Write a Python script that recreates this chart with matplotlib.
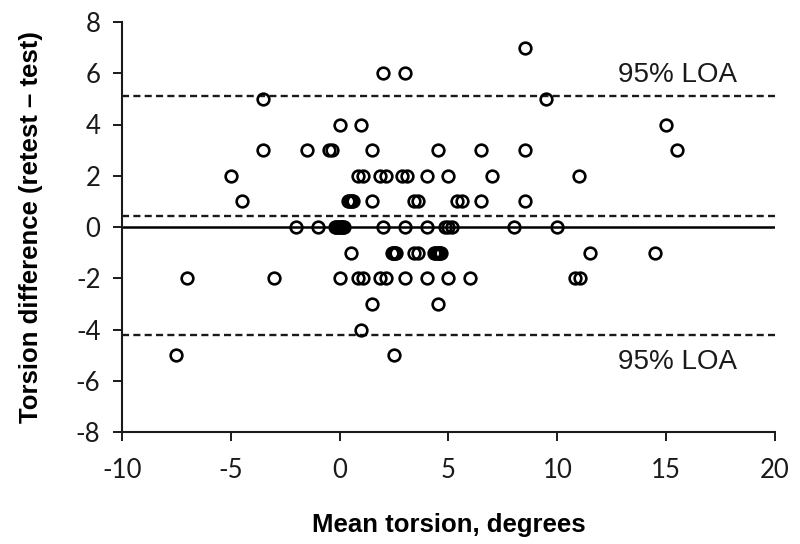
import matplotlib
matplotlib.use("Agg")
import matplotlib.pyplot as plt
import numpy as np

# ---- data ----
diff_levels = [7, 6, 5, 4, 3, 2, 1, 0, -1, -2, -3, -4, -5]
mean_by_level = {
    7: [8.5],
    6: [2, 3],
    5: [-3.5, 9.5],
    4: [0, 1, 15],
    3: [-3.5, -1.5, -0.5, -0.35, 1.5, 4.5, 6.5, 8.5, 15.5],
    2: [-5, 0.85, 1.05, 1.85, 2.15, 2.85, 3.1, 4, 5, 7, 11],
    1: [-4.5, 0.4, 0.45, 0.5, 0.55, 0.6, 1.5, 3.4, 3.6, 5.4, 5.6, 6.5, 8.5],
    0: [-2, -1, -0.2, -0.15, -0.1, -0.05, 0, 0.05, 0.1, 0.15, 0.2,
        2, 3, 4, 4.85, 5.0, 5.15, 8, 10],
    -1: [0.5, 2.4, 2.45, 2.5, 2.55, 2.6, 3.4, 3.6, 4.35, 4.4, 4.45, 4.5,
         4.55, 4.6, 4.65, 11.5, 14.5],
    -2: [-7, -3, 0, 0.85, 1.05, 1.85, 2.15, 3, 4, 5, 6, 10.8, 11.05],
    -3: [1.5, 4.5],
    -4: [1],
    -5: [-7.5, 2.5],
}
mean_torsion = []
torsion_diff = []
for lv in diff_levels:
    for m in mean_by_level[lv]:
        mean_torsion.append(m)
        torsion_diff.append(lv)

mean_diff = 0.44
upper_loa = 5.1
lower_loa = -4.2

x_ticks = [-10, -5, 0, 5, 10, 15, 20]
y_ticks = [-8, -6, -4, -2, 0, 2, 4, 6, 8]

# ---- figure ----
fig = plt.figure(figsize=(8, 5.44), dpi=100)
ax = fig.add_axes([122 / 800, 1 - 432 / 544, (775 - 122) / 800, (432 - 22) / 544])

ax.axhline(0, color="black", lw=1.8, zorder=1)
for yv in (upper_loa, mean_diff, lower_loa):
    ax.axhline(yv, color="#1a1a1a", lw=1.7, ls=(0, (3.0, 1.8)), zorder=1)

ax.plot(mean_torsion, torsion_diff, ls="none", marker="o", ms=8.4,
        mfc="none", mec="black", mew=1.9, zorder=3)

ax.text(15.54, 5.94, "95% LOA", ha="center", va="center",
        fontsize=20, family=["Liberation Sans", "DejaVu Sans"], color="#1a1a1a")
ax.text(15.54, -5.28, "95% LOA", ha="center", va="center",
        fontsize=20, family=["Liberation Sans", "DejaVu Sans"], color="#1a1a1a")

ax.set_xlim(-10, 20)
ax.set_ylim(-8, 8)
ax.set_xticks(x_ticks)
ax.set_yticks(y_ticks)
ax.set_xticklabels([str(t) for t in x_ticks])
ax.set_yticklabels([str(t) for t in y_ticks])

for s in ("top", "right"):
    ax.spines[s].set_visible(False)
for s in ("left", "bottom"):
    ax.spines[s].set_linewidth(1.5)
    ax.spines[s].set_color("#1a1a1a")

ax.tick_params(axis="both", direction="out", length=6.5, width=1.4,
               color="#1a1a1a", labelsize=18.5, labelcolor="#1a1a1a")
ax.tick_params(axis="y", pad=9)
ax.tick_params(axis="x", pad=12)
for lab in ax.get_xticklabels() + ax.get_yticklabels():
    lab.set_family(["Lato", "DejaVu Sans"])

ax.set_xlabel("Mean torsion, degrees", fontsize=18.5, fontweight="bold",
              family=["Liberation Sans", "DejaVu Sans"], labelpad=22)
ax.set_ylabel("Torsion difference (retest \u2013 test)", fontsize=18.5,
              fontweight="bold", family=["Liberation Sans", "DejaVu Sans"],
              labelpad=24)

fig.savefig("out.png", dpi=100)
